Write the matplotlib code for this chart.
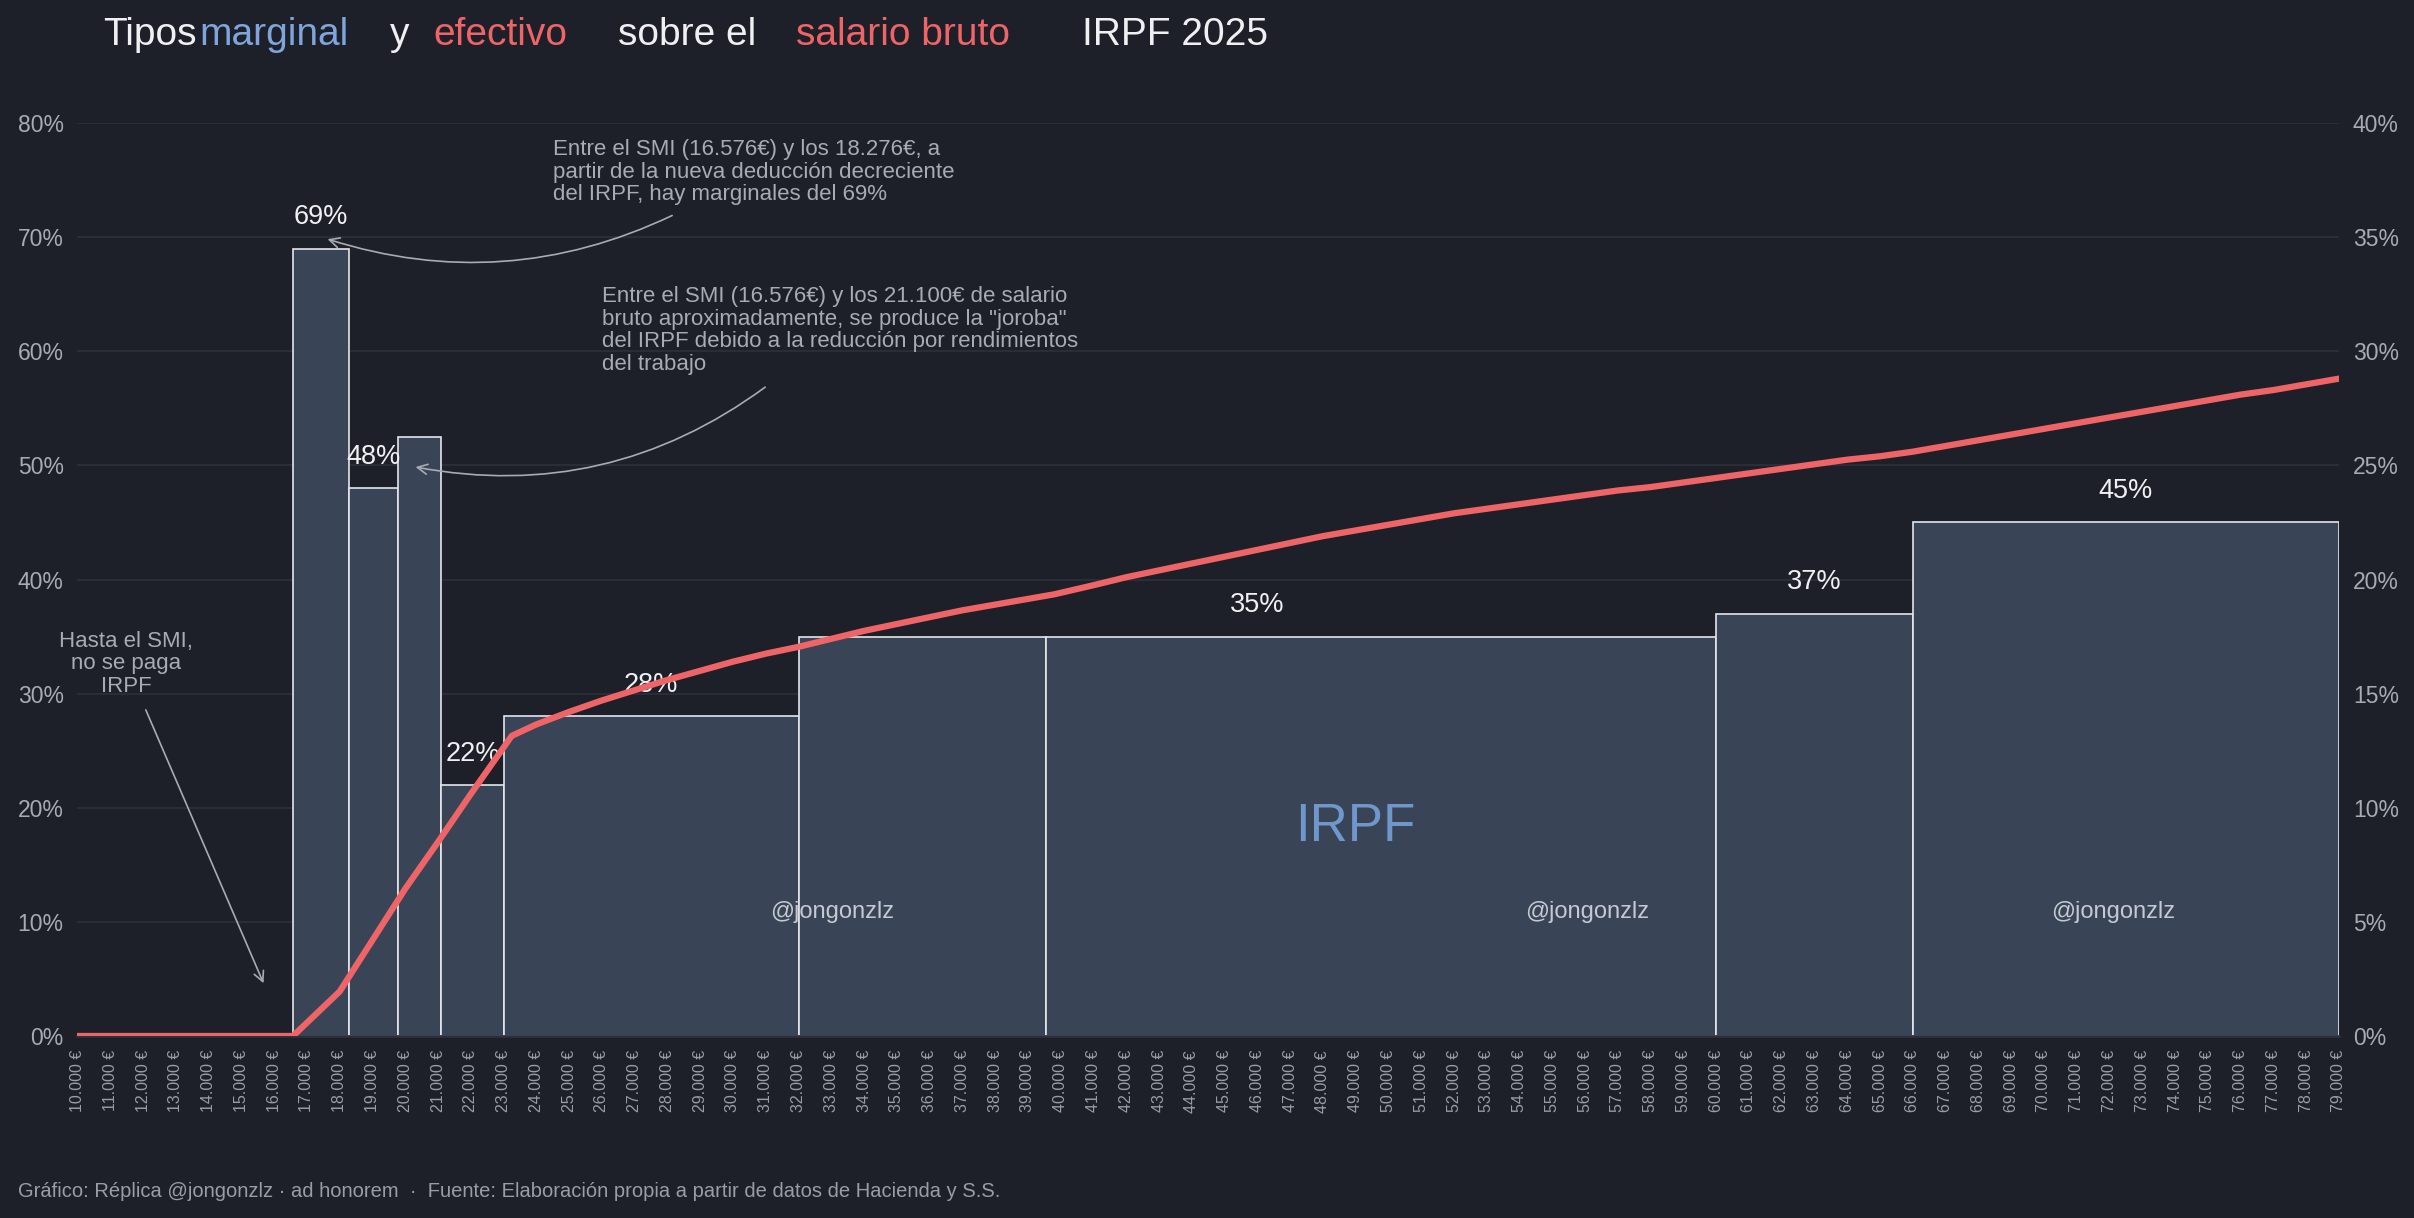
import matplotlib
matplotlib.use("Agg")
import matplotlib.pyplot as plt

# --- data -------------------------------------------------------------
# marginal IRPF steps (salario bruto, €) and rates (%)
bar_start = [16576, 18276, 19770, 21100, 23000, 32000, 39550, 60000, 66000]
bar_end = [18276, 19770, 21100, 23000, 32000, 39550, 60000, 66000, 79000]
marginal = [69, 48, 52.5, 22, 28, 35, 35, 37, 45]
# which steps each label spans (first, last)
label_groups = [(0, 0), (1, 1), (3, 3), (4, 4), (5, 6), (7, 7), (8, 8)]

# effective rate (%), right axis
salary = [10000, 11000, 12000, 13000, 14000, 15000, 16000, 16576, 18000, 19000,
          20000, 21000, 22000, 23250, 24000, 25000, 26000, 27000, 28000, 29000,
          30000, 31000, 32000, 33000, 34000, 35000, 36000, 37000, 38000, 39000,
          39800, 41000, 42000, 43000, 44000, 45000, 46000, 47000, 48000, 49000,
          50000, 51000, 52000, 53000, 54000, 55000, 56000, 57000, 58000, 59000,
          60000, 61000, 62000, 63000, 64000, 65000, 66000, 67000, 68000, 69000,
          70000, 71000, 72000, 73000, 74000, 75000, 76000, 77000, 78000, 79000]
effective = [0, 0, 0, 0, 0, 0, 0, 0, 1.95, 4.2,
             6.45, 8.5, 10.6, 13.15, 13.65, 14.2, 14.7, 15.15, 15.6, 16.0,
             16.4, 16.75, 17.05, 17.4, 17.75, 18.05, 18.35, 18.65, 18.9, 19.15,
             19.35, 19.75, 20.1, 20.4, 20.7, 21.0, 21.3, 21.6, 21.9, 22.15,
             22.4, 22.65, 22.9, 23.1, 23.3, 23.5, 23.7, 23.9, 24.05, 24.25,
             24.45, 24.65, 24.85, 25.05, 25.25, 25.4, 25.6, 25.85, 26.1, 26.35,
             26.6, 26.85, 27.1, 27.35, 27.6, 27.85, 28.1, 28.3, 28.55, 28.8]

x_ticks = list(range(10000, 80000, 1000))
x_tick_labels = [f"{v // 1000}.000 €" for v in x_ticks]

# --- style ------------------------------------------------------------
BG = '#1e2029'
GRID = '#2a2d38'
BAR = '#394457'
RED = '#ef6567'
BLUE = '#7ea6dc'
WHITE = '#f0f0f2'
GRAY = '#a9abb3'

plt.rcParams['font.family'] = ['Liberation Sans', 'DejaVu Sans']

fig = plt.figure(figsize=(24.14, 12.18), dpi=100, facecolor=BG)
ax = fig.add_axes([0.0321, 0.14943, 0.9368, 0.74958])
ax.set_facecolor(BG)

widths = [e - s for s, e in zip(bar_start, bar_end)]
ax.bar(bar_start, marginal, width=widths, align='edge', color=BAR,
       edgecolor='#e4e6ea', linewidth=1.2, zorder=2)

for first, last in label_groups:
    xc = (bar_start[first] + bar_end[last]) / 2
    ax.text(xc, marginal[first] + 2.75, f"{marginal[first]:g}%", ha='center',
            va='center', fontsize=19.5, color=WHITE, zorder=3)

ax.set_xlim(10000, 79000)
ax.set_ylim(0, 80)
ax.set_xticks(x_ticks)
ax.set_xticklabels(x_tick_labels, rotation=90, fontsize=11.5, color='#9a9ca6')
ax.set_yticks(range(0, 90, 10))
ax.set_yticklabels([f"{v}%" for v in range(0, 90, 10)], fontsize=16.5, color=GRAY)
ax.tick_params(axis='both', length=0)
ax.tick_params(axis='x', pad=10)
ax.tick_params(axis='y', pad=10)
ax.set_axisbelow(True)
ax.yaxis.grid(True, color=GRID, linewidth=1.5)
for side in ['top', 'left', 'right']:
    ax.spines[side].set_visible(False)
ax.spines['bottom'].set_color('#2c303b')
ax.spines['bottom'].set_linewidth(2)

# watermarks
ax.text(49000, 18.35, 'IRPF', ha='center', va='center', fontsize=38,
        color='#6f97cc', zorder=3)
for xw in [33030, 56070, 72100]:
    ax.text(xw, 10.9, '@jongonzlz', ha='center', va='center', fontsize=17,
            color='#c5c9d1', zorder=3)

# annotations
arrow_kw = dict(arrowstyle='->', color=GRAY, lw=1.2, mutation_scale=18)
ax.text(24500, 78.6,
        'Entre el SMI (16.576€) y los 18.276€, a\n'
        'partir de la nueva deducción decreciente\n'
        'del IRPF, hay marginales del 69%',
        ha='left', va='top', fontsize=16, color=GRAY, linespacing=1.1)
ax.annotate('', xy=(17550, 69.9), xytext=(28220, 72.0),
            arrowprops=dict(connectionstyle='arc3,rad=-0.2', **arrow_kw))

ax.text(26000, 65.7,
        'Entre el SMI (16.576€) y los 21.100€ de salario\n'
        'bruto aproximadamente, se produce la "joroba"\n'
        'del IRPF debido a la reducción por rendimientos\n'
        'del trabajo',
        ha='left', va='top', fontsize=16, color=GRAY, linespacing=1.1)
ax.annotate('', xy=(20230, 49.9), xytext=(31050, 57.0),
            arrowprops=dict(connectionstyle='arc3,rad=-0.22', **arrow_kw))

ax.text(11480, 32.6, 'Hasta el SMI,\nno se paga\nIRPF', ha='center',
        va='center', fontsize=16, color=GRAY, linespacing=1.08)
ax.annotate('', xy=(15710, 4.4), xytext=(12050, 28.8),
            arrowprops=dict(connectionstyle='arc3,rad=0', **arrow_kw))

# effective rate, right axis
ax2 = ax.twinx()
ax2.plot(salary, effective, color=RED, linewidth=4.5, solid_joinstyle='round',
         zorder=4)
ax2.set_ylim(0, 40)
ax2.set_yticks(range(0, 45, 5))
ax2.set_yticklabels([f"{v}%" for v in range(0, 45, 5)], fontsize=16.5, color=GRAY)
ax2.tick_params(axis='y', length=0, pad=10)
for side in ['top', 'left', 'right', 'bottom']:
    ax2.spines[side].set_visible(False)

# title built from coloured pieces
title_y = 1 - 45 / 1218
pieces = [('Tipos', 103, WHITE), ('marginal', 199, BLUE), ('y', 390, WHITE),
          ('efectivo', 433, RED), ('sobre el', 618, WHITE),
          ('salario bruto', 796, RED), ('IRPF 2025', 1082, WHITE)]
for txt, px, col in pieces:
    fig.text(px / 2414, title_y, txt, ha='left', va='baseline', fontsize=28,
             color=col)

fig.text(18 / 2414, 1 - 1197 / 1218,
         'Gráfico: Réplica @jongonzlz · ad honorem  ·  Fuente: Elaboración '
         'propia a partir de datos de Hacienda y S.S.',
         ha='left', va='baseline', fontsize=14.5, color='#9a9ca6')

fig.savefig('out.png', dpi=100, facecolor=BG)
